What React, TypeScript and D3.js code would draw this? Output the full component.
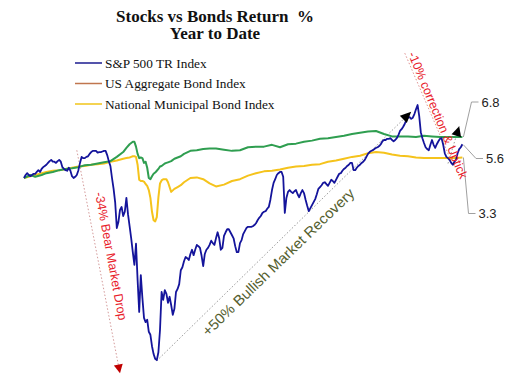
import React from 'react';
import * as d3 from 'd3';

// YTD returns in %, one value per calendar day starting Jan 1 (S&P) or sampled days (bonds)
const startDate = new Date(2020, 0, 1);

const spValues = [
  0, 0.5, 0.8, 0.5, 0.3, 0.5, 0.7, 0.7, 1.0, 1.3,
  1.0, 1.5, 1.8, 2.0, 2.2, 2.5, 2.8, 3.0, 2.7, 2.7,
  2.5, 2.8, 3.0, 2.7, 1.8, 1.5, 1.3, 1.2, 1.7, 1.2,
  0.3, 0.0, 0.2, 0.5, 1.3, 2.5, 3.5, 3.3, 3.3, 3.5,
  3.6, 4.0, 4.3, 4.5, 4.5, 4.5, 4.2, 4.3, 4.3, 4.4,
  4.5, 4.5, 3.8, 2.8, 2.0,
  0, -1.8, -4.1, -8.3, -7.3, -5.3, -4.8, -6.3, -5.6, -3.3,
  -6.0, -8.0, -10.0, -12.3, -14.4, -10.9, -16.9, -22.2, -16.1, -19.9,
  -23.2, -23.9, -23.5, -25.5, -26.0, -27.9, -29.2, -30.0, -30.2, -28.9,
  -25.2, -18.9, -20.2, -18.6, -19.2, -20.7, -19.7, -21.1, -22.7, -21.7,
  -18.9, -18.4, -17.6, -15.3, -14.8, -13.8, -13.1, -13.3, -13.6, -12.6,
  -11.9, -12.8, -11.9, -11.1, -11.3, -11.6, -12.9, -14.6, -12.6, -11.9,
  -11.6, -11.1, -10.4, -10.8, -11.1, -10.0, -9.0, -10.0, -11.9, -11.6,
  -9.6, -9.0, -8.5, -8.5, -9.0, -9.5, -10.0, -11.3, -12.3, -12.3,
  -10.8, -10.3, -9.3, -8.8, -8.3, -8.1, -8.1, -8.1, -8.0, -7.8,
  -7.5, -7.0, -6.6, -6.3, -5.8, -5.6, -5.5, -5.1, -4.8, -3.6,
  -2.0, -0.8, -0.2, 0.5, 0.8, 1.0, 1.0, 0.2, -5.8, -3.3,
  -2.3, -2.0, -2.3, -2.5, -2.2, -2.0, -2.7, -3.2, -2.5, -2.0,
  -2.5, -3.6, -4.6, -5.5, -5.0, -4.5, -4.0, -3.5, -2.7, -1.8,
  -1.5, -1.2, -0.8, -0.7, -1.0, -1.3, -0.8, -0.3, -0.5, -0.8,
  -0.3, 0.2, 0.7, 0.8, 1.2, 1.5, 1.7, 2.0, 2.2, 2.5,
  2.5, 1.3, 1.3, 1.7, 2.0, 2.2, 2.5, 2.7, 3.0, 3.5,
  4.0, 4.3, 4.5, 4.6, 4.8, 5.0, 5.1, 5.3, 5.6, 6.1,
  6.3, 6.3, 6.5, 6.5, 6.6, 6.3, 6.1, 6.3, 6.6, 7.1,
  7.8, 8.1, 8.5, 9.0, 9.6, 10.0, 10.1, 9.8, 10.0, 10.6,
  11.4, 12.1, 10.3, 7.6, 6.6, 5.8, 5.1, 4.8, 4.6, 5.5,
  6.3, 5.5, 5.0, 5.6, 6.1, 6.5, 6.6, 5.5, 4.1, 3.5,
  3.3, 3.0, 2.5, 2.2, 2.7, 3.0, 4.1, 4.8, 5.1, 5.6,
];

const bondDays = [
  0, 4, 7, 11, 14, 18, 22, 26, 30, 34, 38, 42, 46, 50, 54, 58, 62, 64, 66, 67,
  68, 69, 70, 71, 72, 73, 74, 75, 76, 77, 78, 79, 80, 81, 82, 83, 84, 85, 86, 87,
  88, 89, 90, 92, 94, 96, 98, 100, 104, 108, 112, 116, 120, 125, 130, 135, 140, 145, 150, 155,
  160, 165, 170, 175, 180, 185, 190, 195, 200, 205, 210, 215, 220, 225, 230, 235, 240, 245, 250, 255,
  260, 265, 270, 274,
];

const aggValues = [
  0, 0.5, 0.2, 0.5, 0.8, 1.0, 1.3, 1.5, 1.6, 1.8, 2.1, 2.2, 2.4, 2.6, 2.8, 3.5, 4.3, 5.0, 5.6, 5.8,
  6.0, 6.0, 5.2, 4.0, 3.3, 3.4, 3.3, 2.5, 2.7, 1.7, 0.0, -0.2, 0.3, 0.7, 0.9, 1.2, 1.5, 1.9, 2.0, 2.2,
  2.4, 2.5, 2.6, 2.8, 3.2, 3.4, 3.6, 4.0, 4.5, 4.6, 4.8, 4.9, 4.9, 4.7, 4.5, 4.6, 5.1, 5.2, 5.2, 5.5,
  5.1, 5.6, 5.7, 6.0, 6.2, 6.5, 6.6, 6.8, 7.0, 7.3, 7.5, 7.7, 7.8, 7.3, 6.9, 6.9, 6.9, 6.8, 7.0, 6.9,
  6.8, 6.8, 6.8, 6.8,
];

const muniValues = [
  0, 0.3, 0.5, 0.8, 1.0, 1.2, 1.3, 1.5, 1.7, 1.9, 2.0, 2.2, 2.3, 2.4, 2.7, 2.9, 3.2, 3.3, 3.4, 3.5,
  3.6, 3.6, 3.5, 2.2, -0.3, -0.5, -0.5, -0.6, -1.0, -1.3, -2.0, -3.3, -5.6, -7.0, -7.2, -6.5, -3.2, -0.9, -0.4, -0.2,
  -0.2, -0.2, -0.7, -2.3, -1.8, -1.5, -1.2, -0.7, 0.0, 0.1, -0.2, -0.9, -1.4, -1.1, -0.5, -0.2, 0.4, 0.8, 1.1, 1.2,
  1.4, 1.7, 1.9, 2.0, 2.2, 2.3, 2.7, 2.9, 3.2, 3.5, 3.7, 4.1, 4.3, 4.2, 3.9, 3.7, 3.6, 3.4, 3.3, 3.3,
  3.3, 3.3, 3.3, 3.4,
];

const seriesNames = ['S&P 500 TR Index', 'US Aggregate Bond Index', 'National Municipal Bond Index'];
const lineColors = ['#14149b', '#2f9e50', '#f5c31c'];
const legendColors = ['#1b1b8f', '#c0764e', '#f0c419'];

const endLabels = ['6.8', '5.6', '3.3'];

const day = (d: number) => d3.timeDay.offset(startDate, d);

export default function App() {
  const width = 515;
  const height = 386;

  const x = d3.scaleTime().domain([day(0), day(274)]).range([24, 462.4]);
  // 0% sits at y=178, about 6 px per percentage point
  const y = d3.scaleLinear().domain([-30, 10]).range([178 + 30 * 6.03, 178 - 10 * 6.03]);

  const line = d3.line<[number, number]>()
    .x(d => x(day(d[0])))
    .y(d => y(d[1]));

  const spPts: [number, number][] = spValues.map((v, i) => [i, v]);
  const aggPts: [number, number][] = bondDays.map((d, i) => [d, aggValues[i]]);
  const muniPts: [number, number][] = bondDays.map((d, i) => [d, muniValues[i]]);

  const P = (d: number, v: number) => [x(day(d)), y(v)] as [number, number];

  // annotation anchors in data units
  const bearA = P(33, 4.6), bearB = P(60, -32.4);
  const bullA = P(83, -30.3), bullB = P(242.5, 11.0);
  const corrA = P(238, 20.7), corrB = P(268, 2.2);
  const upA = P(265.5, 2.4), upB = P(272.5, 8.6);

  const arrow = (a: [number, number], b: [number, number], color: string, len = 10, half = 4.5) => {
    const ang = Math.atan2(b[1] - a[1], b[0] - a[0]);
    const bx = b[0] - len * Math.cos(ang), by = b[1] - len * Math.sin(ang);
    const nx = -Math.sin(ang) * half, ny = Math.cos(ang) * half;
    return <path d={`M${b[0]},${b[1]}L${bx + nx},${by + ny}L${bx - nx},${by - ny}Z`} fill={color} />;
  };

  const ends = [
    { pt: P(274, 6.8), val: 6.8 },
    { pt: P(274, 5.5), val: 5.6 },
    { pt: P(274, 3.4), val: 3.3 },
  ];
  const labelY = [102, 158.5, 213.5];
  const elbowX = [471.5, 476, 468.5];

  const sans = '"Liberation Sans", Arial, sans-serif';
  const serif = '"Liberation Serif", "Times New Roman", serif';

  return (
    <svg width={width} height={height} style={{ position: 'absolute', left: 0, top: 0, background: '#fff' }}>
      <text x={215} y={21.5} textAnchor="middle" fontFamily={serif} fontWeight="bold" fontSize={17} fill="#111"
        style={{ whiteSpace: 'pre' }}>
        {'Stocks vs Bonds Return  %'}
      </text>
      <text x={215} y={39} textAnchor="middle" fontFamily={serif} fontWeight="bold" fontSize={17} fill="#111">
        Year to Date
      </text>

      {seriesNames.map((n, i) => (
        <g key={n} transform={`translate(0,${63 + i * 20.5})`}>
          <line x1={75} x2={102} y1={0} y2={0} stroke={legendColors[i]} strokeWidth={1.5} />
          <text x={105} y={4.5} fontFamily={serif} fontSize={13.3} fill="#111">{n}</text>
        </g>
      ))}

      {/* dotted guide lines */}
      <line x1={bearA[0]} y1={bearA[1]} x2={bearB[0]} y2={bearB[1]} stroke="#d49a9a" strokeWidth={1} strokeDasharray="1.5,2" />
      <line x1={bullA[0]} y1={bullA[1]} x2={bullB[0]} y2={bullB[1]} stroke="#999" strokeWidth={1} strokeDasharray="1.5,2" />
      <line x1={corrA[0]} y1={corrA[1]} x2={corrB[0]} y2={corrB[1]} stroke="#e09090" strokeWidth={1} strokeDasharray="1.5,2" />
      <line x1={upA[0]} y1={upA[1]} x2={upB[0]} y2={upB[1]} stroke="#999" strokeWidth={1} strokeDasharray="1.5,2" />

      <path d={line(muniPts) ?? ''} fill="none" stroke={lineColors[2]} strokeWidth={2} strokeLinejoin="round" />
      <path d={line(aggPts) ?? ''} fill="none" stroke={lineColors[1]} strokeWidth={2} strokeLinejoin="round" />
      <path d={line(spPts) ?? ''} fill="none" stroke={lineColors[0]} strokeWidth={1.8} strokeLinejoin="round" />

      {arrow(bearA, bearB, '#c00000', 9, 4.5)}
      {arrow(bullA, bullB, '#000', 11, 5)}
      {arrow(upA, upB, '#000', 10, 5)}

      {/* end-value leaders */}
      {ends.map((e, i) => (
        <g key={i}>
          <polyline
            points={`${e.pt[0] + 1},${e.pt[1]} ${elbowX[i]},${labelY[i]} ${elbowX[i] + 7},${labelY[i]}`}
            fill="none" stroke="#a0a0a0" strokeWidth={1}
          />
          <text x={elbowX[i] + 10} y={labelY[i] + 4.5} fontFamily={sans} fontSize={13} fill="#222">{endLabels[i]}</text>
        </g>
      ))}

      <text transform={`translate(95,193) rotate(79.5)`} fontFamily={sans} fontSize={12.5} fill="#e8202a"
        textLength={130} lengthAdjust="spacingAndGlyphs">-34% Bear Market Drop</text>
      <text transform={`translate(208,337) rotate(-44)`} fontFamily={sans} fontSize={14.5} fill="#55602f"
        textLength={205} lengthAdjust="spacingAndGlyphs">+50% Bullish Market Recovery</text>
      <text transform={`translate(408,54) rotate(67.5)`} fontFamily={sans} fontSize={12.5} fill="#e8202a"
        textLength={136} lengthAdjust="spacingAndGlyphs">-10% correction &amp; Uptick</text>
    </svg>
  );
}
